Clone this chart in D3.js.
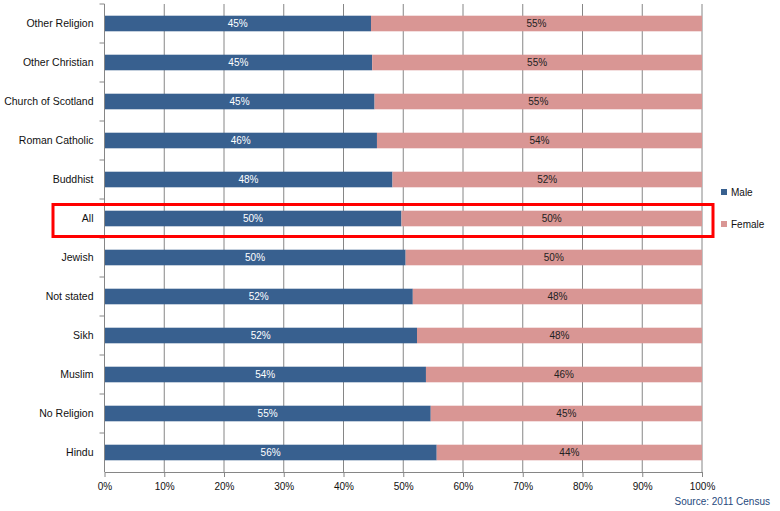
<!DOCTYPE html>
<html>
<head>
<meta charset="utf-8">
<script src="https://cdn.jsdelivr.net/npm/d3@7"></script>
<style>
  body { margin: 0; background: #fff; }
  text { font-family: "Liberation Sans", Arial, sans-serif; }
</style>
</head>
<body>
<div id="chart"></div>
<script>
// religion categories, top to bottom
var categories = ["Other Religion", "Other Christian", "Church of Scotland", "Roman Catholic",
    "Buddhist", "All", "Jewish", "Not stated", "Sikh", "Muslim", "No Religion", "Hindu"];
// share of males (%)
var maleValues = [44.6, 44.8, 45.2, 45.6, 48.2, 49.7, 50.4, 51.6, 52.3, 53.8, 54.6, 55.6];
var femaleValues = maleValues.map(function (m) { return 100 - m; });
var seriesNames = ["Male", "Female"];
var xTicks = [0, 10, 20, 30, 40, 50, 60, 70, 80, 90, 100];
var highlight = "All";

var width = 780, height = 511;
var margin = { top: 4, right: 78, bottom: 39, left: 104.5 };
var innerW = width - margin.left - margin.right,
    innerH = height - margin.top - margin.bottom;

var colors = { Male: "#38608f", Female: "#d99694" };
var gridColor = "#868686";

var svg = d3.select("#chart").append("svg")
    .attr("width", width)
    .attr("height", height);

var g = svg.append("g")
    .attr("transform", "translate(" + margin.left + "," + margin.top + ")");

var x = d3.scaleLinear().domain([0, 100]).range([0, innerW]);
var y = d3.scaleBand().domain(categories).range([0, innerH]).paddingInner(0.6).paddingOuter(0.3);
var yb = d3.scaleBand().domain(categories).range([0, innerH]);

// vertical gridlines
g.append("g").selectAll("line")
    .data(xTicks.slice(1))
    .enter().append("line")
    .attr("x1", function (d) { return x(d); })
    .attr("x2", function (d) { return x(d); })
    .attr("y1", 0)
    .attr("y2", innerH)
    .attr("stroke", gridColor)
    .attr("stroke-width", 1);

// stacked data
var rows = categories.map(function (c, i) {
    return { cat: c, male: maleValues[i], female: femaleValues[i] };
});

// male bars
g.append("g").selectAll("rect")
    .data(rows)
    .enter().append("rect")
    .attr("x", x(0))
    .attr("y", function (d) { return y(d.cat); })
    .attr("width", function (d) { return x(d.male) - x(0); })
    .attr("height", y.bandwidth())
    .attr("fill", colors.Male);

// female bars
g.append("g").selectAll("rect")
    .data(rows)
    .enter().append("rect")
    .attr("x", function (d) { return x(d.male); })
    .attr("y", function (d) { return y(d.cat); })
    .attr("width", function (d) { return x(100) - x(d.male); })
    .attr("height", y.bandwidth())
    .attr("fill", colors.Female);

// value labels
g.append("g").selectAll("text")
    .data(rows)
    .enter().append("text")
    .attr("x", function (d) { return x(d.male / 2); })
    .attr("y", function (d) { return y(d.cat) + y.bandwidth() / 2; })
    .attr("dy", "0.35em")
    .attr("text-anchor", "middle")
    .style("font-size", "10px")
    .attr("fill", "#fff")
    .text(function (d) { return Math.round(d.male) + "%"; });

g.append("g").selectAll("text")
    .data(rows)
    .enter().append("text")
    .attr("x", function (d) { return x(d.male + d.female / 2); })
    .attr("y", function (d) { return y(d.cat) + y.bandwidth() / 2; })
    .attr("dy", "0.35em")
    .attr("text-anchor", "middle")
    .style("font-size", "10px")
    .attr("fill", "#222")
    .text(function (d) { return Math.round(d.female) + "%"; });

// left axis line and ticks between categories
g.append("line")
    .attr("x1", 0).attr("x2", 0)
    .attr("y1", 0).attr("y2", innerH)
    .attr("stroke", gridColor);
g.append("g").selectAll("line")
    .data(categories)
    .enter().append("line")
    .attr("x1", -5).attr("x2", 0)
    .attr("y1", function (d) { return yb(d); })
    .attr("y2", function (d) { return yb(d); })
    .attr("stroke", gridColor);

// category labels
g.append("g").selectAll("text")
    .data(categories)
    .enter().append("text")
    .attr("x", -11)
    .attr("y", function (d) { return y(d) + y.bandwidth() / 2; })
    .attr("dy", "0.35em")
    .attr("text-anchor", "end")
    .style("font-size", "10.5px")
    .attr("fill", "#111")
    .text(function (d) { return d; });

// bottom axis
var xAxis = g.append("g")
    .attr("transform", "translate(0," + innerH + ")")
    .call(d3.axisBottom(x).tickValues(xTicks).tickSize(5).tickSizeOuter(0)
        .tickFormat(function (d) { return d + "%"; }));
xAxis.select(".domain").attr("stroke", gridColor);
xAxis.selectAll(".tick line").attr("stroke", gridColor);
xAxis.selectAll(".tick text")
    .attr("y", 11)
    .style("font-size", "10px")
    .style("font-family", "'Liberation Sans', Arial, sans-serif")
    .attr("fill", "#111");

// red box around the "All" row
svg.append("rect")
    .attr("x", 53)
    .attr("y", margin.top + yb(highlight) + 5.5)
    .attr("width", 660)
    .attr("height", yb.bandwidth() - 7)
    .attr("fill", "none")
    .attr("stroke", "#ff0000")
    .attr("stroke-width", 3);

// legend
var legend = svg.append("g").attr("transform", "translate(721,0)");
seriesNames.forEach(function (s, i) {
    var ly = 192 + i * 32;
    legend.append("rect")
        .attr("x", 0).attr("y", ly - 3)
        .attr("width", 6).attr("height", 6)
        .attr("fill", colors[s]);
    legend.append("text")
        .attr("x", 10).attr("y", ly)
        .attr("dy", "0.35em")
        .style("font-size", "10px")
        .attr("fill", "#111")
        .text(s);
});

// source note
svg.append("text")
    .attr("x", 770)
    .attr("y", 505)
    .attr("text-anchor", "end")
    .style("font-size", "10px")
    .attr("fill", "#1f497d")
    .text("Source: 2011 Census");
</script>
</body>
</html>
